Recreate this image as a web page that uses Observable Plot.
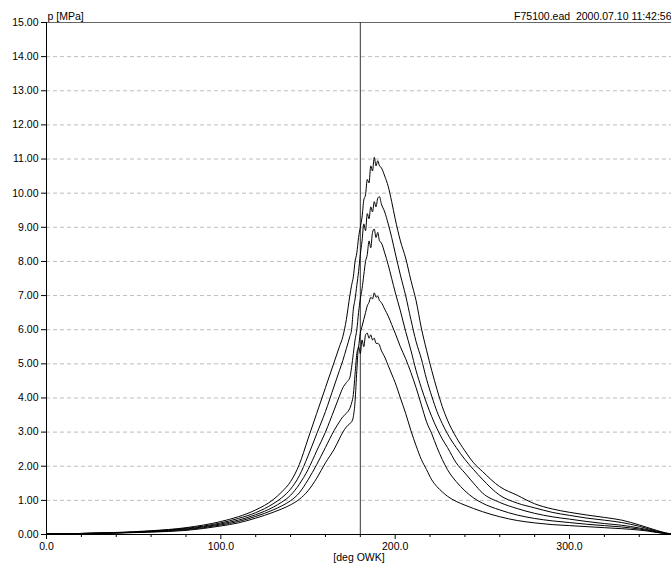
<!DOCTYPE html>
<html><head><meta charset="utf-8">
<script src="https://cdn.jsdelivr.net/npm/d3@7"></script>
<script src="https://cdn.jsdelivr.net/npm/@observablehq/plot@0.6"></script>
<style>
body{margin:0;background:#fff;}
svg{display:block}
svg text{white-space:pre}
</style>
</head><body><div id="chart"></div>
<script>
const angles = [0,20,40,60,80,100,110,120,130,135,140,145,150,155,160,165,168,170,172,174,
  175,176,177,178,179,180,181,182,183,184,185,186,187,188,189,190,191,192,
  194,196,198,200,203,206,209,212,215,218,221,224,227,230,235,240,245,250,
  260,270,280,290,300,310,320,330,340,345,350,355,358];

const pRun1 = [0.02,0.03,0.06,0.11,0.2,0.38,0.52,0.72,1.02,1.25,1.55,2.05,2.8,3.55,4.3,5.05,5.5,5.8,6.3,7.0,
  7.3,7.55,8.0,8.25,8.7,9.0,9.3,9.8,9.95,10.4,10.3,10.8,10.65,11.05,10.8,10.95,10.8,10.75,
  10.5,10.2,9.75,9.25,8.6,8.1,7.45,6.85,6.05,5.4,4.8,4.25,3.75,3.35,2.85,2.45,2.1,1.85,
  1.4,1.15,0.9,0.75,0.65,0.57,0.5,0.42,0.28,0.2,0.12,0.05,0.02];

const pRun2 = [0.02,0.03,0.05,0.1,0.18,0.34,0.47,0.64,0.9,1.08,1.33,1.72,2.3,2.95,3.6,4.35,4.8,5.1,5.45,5.8,
  6.0,6.6,6.9,7.3,7.7,8.2,8.6,9.1,8.9,9.4,9.25,9.6,9.45,9.75,9.6,9.85,9.9,9.7,
  9.45,9.1,8.7,8.25,7.6,7.0,6.3,5.65,5.15,4.55,4.05,3.6,3.25,2.95,2.55,2.2,1.9,1.62,
  1.15,0.92,0.78,0.65,0.56,0.48,0.42,0.35,0.24,0.17,0.1,0.04,0.02];

const pRun3 = [0.02,0.03,0.05,0.09,0.16,0.31,0.42,0.58,0.8,0.95,1.15,1.47,1.9,2.45,3.0,3.65,4.05,4.3,4.45,4.6,
  4.9,5.3,5.7,6.0,6.5,6.9,7.2,7.6,8.0,8.2,8.6,8.4,8.85,8.95,8.7,8.85,8.6,8.55,
  8.25,7.9,7.5,7.1,6.55,5.95,5.4,4.8,4.3,3.85,3.45,3.1,2.8,2.55,2.1,1.8,1.5,1.22,
  0.94,0.76,0.62,0.52,0.45,0.38,0.32,0.27,0.19,0.14,0.08,0.03,0.02];

const pRun4 = [0.02,0.03,0.05,0.08,0.14,0.28,0.38,0.53,0.72,0.84,0.99,1.22,1.6,2.05,2.55,3.05,3.3,3.45,3.55,3.7,
  3.85,4.1,4.7,5.3,5.5,5.9,6.1,6.3,6.5,6.7,6.8,6.95,6.9,7.08,6.95,6.98,6.85,6.8,
  6.6,6.4,6.15,5.9,5.5,5.15,4.75,4.3,3.8,3.3,2.95,2.55,2.2,1.9,1.55,1.28,1.07,0.92,
  0.72,0.57,0.47,0.4,0.35,0.3,0.26,0.22,0.16,0.12,0.07,0.03,0.02];

const pRun5 = [0.02,0.03,0.04,0.07,0.12,0.25,0.34,0.48,0.65,0.75,0.87,1.03,1.28,1.65,2.1,2.5,2.8,3.0,3.15,3.25,
  3.3,3.45,3.9,4.8,5.5,5.3,5.7,5.5,5.85,5.9,5.75,5.85,5.7,5.75,5.6,5.6,5.55,5.4,
  5.2,4.95,4.7,4.45,4.0,3.55,3.05,2.6,2.2,1.9,1.6,1.4,1.25,1.12,0.97,0.86,0.76,0.67,
  0.52,0.41,0.34,0.29,0.26,0.23,0.2,0.17,0.13,0.1,0.06,0.03,0.02];

const yTicks = [0,1,2,3,4,5,6,7,8,9,10,11,12,13,14,15];
const xMajorTicks = [0,100,200,300];
const xMinorTicks = [20,40,60,80,120,140,160,180,220,240,260,280,320,340];
const tdcAngle = 180;
const titleLeft = "p [MPa]";
const titleRight = "F75100.ead  2000.07.10 11:42:56";
const xLabel = "[deg OWK]";

const runs = [pRun1, pRun2, pRun3, pRun4, pRun5];
const rows = runs.flatMap((vals, i) => vals.map((p, j) => ({angle: angles[j], p, run: i})));

const chart = Plot.plot({
  width: 671,
  height: 567,
  marginLeft: 46,
  marginRight: 0,
  marginTop: 22,
  marginBottom: 33,
  style: {fontFamily: "'Liberation Sans', Arial, sans-serif", fontSize: "10.5px", color: "#000", background: "#fff", overflow: "visible"},
  x: {domain: [0, 358.5]},
  y: {domain: [0, 15]},
  marks: [
    Plot.ruleY(yTicks.filter(d => d > 0 && d < 15), {stroke: "#bdbdbd", strokeDasharray: "4,3"}),
    Plot.ruleY([15], {stroke: "#666"}),
    Plot.ruleX([tdcAngle], {stroke: "#333"}),
    Plot.lineY(rows, {x: "angle", y: "p", z: "run", stroke: "#000", strokeWidth: 1, curve: "monotone-x"}),
    Plot.ruleX([0], {stroke: "#000"}),
    Plot.ruleY([0], {stroke: "#000"}),
    Plot.axisY({ticks: yTicks, tickFormat: d => d.toFixed(2), tickSize: 5, tickPadding: 3, label: null}),
    Plot.axisX({ticks: xMajorTicks, tickFormat: d => d.toFixed(1), tickSize: 5, tickPadding: 3, label: null}),
    Plot.axisX({ticks: xMinorTicks, tickFormat: () => "", tickSize: 3, label: null}),
    Plot.text([xLabel], {frameAnchor: "bottom", dy: 26, fill: "#000"}),
    Plot.text([titleLeft], {frameAnchor: "top-left", textAnchor: "start", lineAnchor: "bottom", dx: 1, dy: -3, fill: "#000"}),
    Plot.text([titleRight], {frameAnchor: "top-right", textAnchor: "end", lineAnchor: "bottom", dy: -3, fill: "#000"})
  ]
});
document.getElementById("chart").appendChild(chart);
</script>
</body></html>
